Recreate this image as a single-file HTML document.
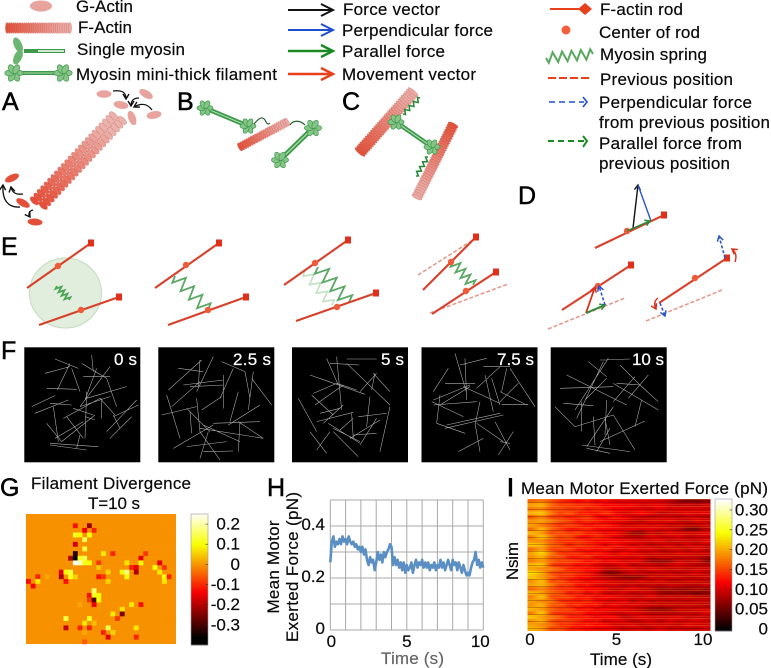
<!DOCTYPE html>
<html lang="en">
<head>
<meta charset="utf-8">
<title>Actin-myosin model figure</title>
<style>
html,body{margin:0;padding:0;background:#fff;width:771px;height:668px;overflow:hidden}
svg{display:block}
text{font-family:"Liberation Sans",sans-serif;font-size:17px;fill:#0a0a0a;stroke:#0a0a0a;stroke-width:.2}
.panel{font-size:25px;fill:#000;stroke:#000;stroke-width:.5}
.f-label{font-size:17px;fill:#fff;stroke:#fff;stroke-width:.25}
</style>
</head>
<body>
<svg id="fig" xmlns="http://www.w3.org/2000/svg" width="771" height="668" viewBox="0 0 771 668">
  <defs>
    <marker id="hk" markerUnits="userSpaceOnUse" markerWidth="8" markerHeight="8" refX="6" refY="4" orient="auto"><path d="M1 1L6 4L1 7" fill="none" stroke="#111" stroke-width="1.4"/></marker>
    <marker id="hb" markerUnits="userSpaceOnUse" markerWidth="8" markerHeight="8" refX="6" refY="4" orient="auto"><path d="M1 1L6 4L1 7" fill="none" stroke="#2a55d0" stroke-width="1.5"/></marker>
    <marker id="hg" markerUnits="userSpaceOnUse" markerWidth="8" markerHeight="8" refX="6" refY="4" orient="auto"><path d="M1 1L6 4L1 7" fill="none" stroke="#2a8a3a" stroke-width="1.5"/></marker>
    <marker id="hr" markerUnits="userSpaceOnUse" markerWidth="8" markerHeight="8" refX="6" refY="4" orient="auto"><path d="M1 1L6 4L1 7" fill="none" stroke="#d9301c" stroke-width="1.5"/></marker>
    <clipPath id="motorClip"><rect x="527.5" y="499" width="183" height="132"/></clipPath>
    <filter id="motorBlur" filterUnits="userSpaceOnUse" x="500" y="480" width="240" height="170"><feGaussianBlur stdDeviation="3.5 0.5"/></filter>
    <pattern id="motorStreaks" patternUnits="userSpaceOnUse" x="0" y="499" width="40" height="7">
      <rect x="0" y="0" width="40" height="1" fill="#ff9a40" fill-opacity=".3"/>
      <rect x="0" y="3" width="40" height="1" fill="#5a0000" fill-opacity=".28"/>
      <rect x="0" y="5" width="40" height="1" fill="#ff8030" fill-opacity=".22"/>
    </pattern>
  </defs>

  <g>
    <text x="76" y="12" textLength="57">G-Actin</text>
    <text x="78" y="33" textLength="54">F-Actin</text>
    <text x="77" y="55" textLength="108">Single myosin</text>
    <text x="76" y="80" textLength="201">Myosin mini-thick filament</text>
  </g>

  <g>
    <g fill="none" stroke="#111" stroke-width="2"><path d="M288 10H332"/><path d="M321 4L333 10L321 16"/></g>
    <g fill="none" stroke="#1f4fd0" stroke-width="2"><path d="M288 30H332"/><path d="M321 24L333 30L321 36"/></g>
    <g fill="none" stroke="#1a8a22" stroke-width="2.4"><path d="M288 51H332"/><path d="M321 45L333 51L321 57"/></g>
    <g fill="none" stroke="#e8401a" stroke-width="2.4"><path d="M288 74H332"/><path d="M321 68L333 74L321 80"/></g>
    <text x="343" y="15" textLength="97">Force vector</text>
    <text x="342" y="36" textLength="151">Perpendicular force</text>
    <text x="342" y="57" textLength="103">Parallel force</text>
    <text x="342" y="80" textLength="134">Movement vector</text>
  </g>

  <g>
    <g><path d="M550 9H585" stroke="#e8401a" stroke-width="2"/><path d="M585 3L592 9L585 15L578 9Z" fill="#e8401a"/></g>
    <circle cx="566" cy="30" r="4.5" fill="#f0603c"/>
    <g id="springKey"></g>
    <path d="M548 78H589" stroke="#e8401a" stroke-width="2" stroke-dasharray="8 3"/>
    <g fill="none" stroke="#1f4fd0" stroke-width="1.6"><path d="M549 102H584" stroke-dasharray="6 4"/><path d="M583 97L587 102L583 107"/></g>
    <g fill="none" stroke="#1a8a22" stroke-width="2"><path d="M548 141H584" stroke-dasharray="6 4"/><path d="M583 136L587 141L583 147"/></g>
    <text x="600" y="15" textLength="83">F-actin rod</text>
    <text x="599" y="38" textLength="101">Center of rod</text>
    <text x="600" y="60" textLength="107">Myosin spring</text>
    <text x="600" y="85" textLength="133">Previous position</text>
    <text x="599" y="108" textLength="153">Perpendicular force</text>
    <text x="599" y="128" textLength="171">from previous position</text>
    <text x="599" y="149" textLength="143">Parallel force from</text>
    <text x="599" y="169" textLength="131">previous position</text>
  </g>

  <g>
    <text class="panel" x="2" y="110">A</text>
    <text class="panel" x="177" y="110">B</text>
    <text class="panel" x="342" y="110">C</text>
    <text class="panel" x="518" y="204">D</text>
    <text class="panel" x="1" y="255">E</text>
    <text class="panel" x="1" y="359">F</text>
    <text class="panel" x="0" y="496">G</text>
    <text class="panel" x="267" y="496">H</text>
    <text class="panel" x="507" y="496" style="stroke-width:1">I</text>
  </g>

  <g id="illus"></g>

  <g fill="none" stroke="#111" stroke-width="1.3">
    <path marker-end="url(#hk)" d="M113 91C122 90 126 92 126 99"/>
    <path marker-end="url(#hk)" d="M139 98C133 98 131 101 131 106"/>
    <path marker-end="url(#hk)" d="M152 110C147 103 141 103 134 107"/>
    <path marker-end="url(#hk)" d="M20 207C8 208 2 200 3 185"/>
    <path marker-end="url(#hk)" d="M23 194C15 195 12 192 11 187"/>
    <path marker-end="url(#hk)" d="M33 210C29 211 28 214 30 217"/>
  </g>

  <g fill="none">
    <path d="M633 228L638 185" stroke="#111" stroke-width="1.4" marker-end="url(#hk)"/>
    <path d="M651 221L638 185" stroke="#2a55d0" stroke-width="1.4"/>
  </g>

  <g id="panelE">
    <ellipse cx="65.5" cy="293" rx="36" ry="35" fill="#e1eedd" stroke="#c4dabf" stroke-width="1"/>
  </g>

  <g>
    <rect x="24.3" y="347.3" width="116" height="115" fill="#000"/>
    <rect x="158.3" y="347.3" width="116" height="115" fill="#000"/>
    <rect x="292" y="347.3" width="116" height="115" fill="#000"/>
    <rect x="421.5" y="347.3" width="116" height="115" fill="#000"/>
    <rect x="550.7" y="347.3" width="116" height="115" fill="#000"/>
    <g transform="translate(0 335) scale(.3333)" fill="none" stroke="#b0b0b0" stroke-width="1.7">
      <path d="M165 72L235 100M210 85L172 165M135 115L210 95M140 160L230 163M215 100L240 170M245 85L320 130M275 60L280 110M330 95L240 215M290 100L255 195M250 125L330 125M320 130L350 215M380 155L260 190M95 215L165 182M105 235L205 195M150 205L215 210M240 215L330 185M415 210L340 245M410 195L320 290M395 245L330 310M140 265L185 320M160 215L175 320M200 245L250 310M255 245L285 255M260 170L255 310M305 190L305 250M300 190L345 240M340 240L360 280M150 325L295 335M150 330L260 345M165 310L250 260M185 320L285 240M230 340L240 300M190 250L300 190M220 220L280 240"/>
      <path d="M535 100L610 110M505 165L605 75M515 215L600 140M640 65L590 170M665 80L735 110M690 260L715 170M745 225L760 110M600 75L595 155M550 150L670 135M570 155L670 150M670 120L670 220M735 110L750 190M700 100L660 190M755 130L815 210M500 180L540 310M485 240L590 215M560 220L630 290M590 190L600 290M570 230L575 295M605 225L665 185M640 265L780 260M685 270L780 210M720 260L715 350M610 270L720 320M600 280L790 310M520 340L640 270M610 350L700 348M560 335L680 320M600 370L625 290M660 375L600 290M715 260L790 310"/>
      <path d="M930 120L1095 178M1040 72L1130 72M1040 85L1170 210M980 70L1015 150M1010 65L1025 225M990 85L1078 90M1010 145L940 175M960 130L1015 150M1010 145L1070 165M895 190L950 290M935 180L1000 240M945 210L1030 150M1080 170L1130 115M1115 165L1125 115M1120 115L1170 170M950 260L1060 232M1055 235L1060 310M960 235L1020 220M985 265L1080 325M970 265L1030 210M930 290L980 355M950 345L990 290M1000 290L1075 365M1110 185L1100 275M1170 215L1140 350M1075 245L1160 235M1060 300L1130 295M1050 310L1140 255M1020 285L1060 250M1130 250L1080 330M1000 280L1080 320"/>
    </g>
    <g transform="translate(400 335) scale(.3333)" fill="none" stroke="#b0b0b0" stroke-width="1.7">
      <path d="M165 55L200 175M195 70L200 195M180 90L260 70M250 95L330 95M145 100L100 170M135 145L225 145M100 195L210 150M190 155L300 205M230 160L300 95M255 120L280 230M275 130L300 210M320 100L305 170M330 100L405 215M300 170L380 210M305 208L385 208M355 145L300 200M95 200L190 245M120 180L110 265M100 210L230 200M120 210L210 155M110 265L195 295M135 280L310 240M140 270L300 235M240 200L225 270M225 265L240 350M285 260L330 345M230 265L310 320M175 350L250 310M295 360L340 290M300 320L330 325"/>
      <path d="M600 75L690 72M565 80L620 125M625 70L525 225M610 80L530 250M500 120L680 210M480 160L640 155M620 130L555 195M640 145L775 225M660 90L730 160M705 125L640 200M745 120L685 190M720 150L775 200M490 205L580 212M465 215L525 275M545 200L545 290M525 275L640 240M620 195L615 300M640 215L560 335M580 245L585 330M640 240L705 345M725 195L705 275M735 258L600 320M545 330L690 350M560 340L630 355M630 280L590 350M615 250L630 330M650 145L720 150"/>
    </g>
    <text class="f-label" x="114" y="365" textLength="23">0 s</text>
    <text class="f-label" x="233" y="365" textLength="38">2.5 s</text>
    <text class="f-label" x="381" y="365" textLength="23">5 s</text>
    <text class="f-label" x="497" y="365" textLength="37">7.5 s</text>
    <text class="f-label" x="632" y="365" textLength="32">10 s</text>
  </g>

  <g id="chartG">
    <text x="31" y="489" textLength="160">Filament Divergence</text>
    <text x="88" y="509" textLength="52">T=10 s</text>
  </g>

  <g id="chartH">
    <text transform="translate(279 567) rotate(-90)" text-anchor="middle" textLength="93">Mean Motor</text>
    <text transform="translate(298 567) rotate(-90)" text-anchor="middle" textLength="150">Exerted Force (pN)</text>
    <text x="381" y="664" textLength="63" style="fill:#666;stroke:#666">Time (s)</text>
  </g>

  <g id="chartI">
    <text x="521" y="494" textLength="247">Mean Motor Exerted Force (pN)</text>
    <text transform="translate(518 561) rotate(-90)" text-anchor="middle" textLength="38">Nsim</text>
    <text x="590" y="665" textLength="62">Time (s)</text>
  </g>
</svg>

<script>
/* ---------- Panel G data ---------- */
const divergenceCols = 32;
const divergenceRows = 28;
const divergenceCells = [
 [10,2,-.12],[13,2,-.22],[12,3,-.14],[14,3,-.1],[10,4,.12],[11,4,.1],[13,4,.1],[12,5,.15],[10,6,-.17],[12,7,.14],
 [10,8,-.32],[9,9,-.2],[10,9,-.36],[11,9,.12],[12,9,.15],[10,10,.25],[11,10,.22],[12,10,.12],[13,10,.1],
 [16,8,.08],[18,8,-.1],[25,8,-.08],[24,9,-.15],[15,10,-.08],[22,11,-.1],[24,10,.1],[21,10,.08],[23,11,-.15],[23,12,-.2],[15,11,.05],
 [28,10,-.15],[27,11,.1],[29,11,-.08],[28,12,.08],[29,13,.1],[30,13,-.1],[29,14,.08],
 [7,12,-.15],[8,12,.1],[9,12,.14],[7,13,-.2],[9,13,.12],[10,13,.06],[8,14,-.12],
 [15,13,-.12],[16,13,-.08],[17,12,.06],[17,14,.06],[20,12,.1],[21,12,.18],[21,13,.1],
 [0,14,-.12],[2,13,-.1],[2,14,.08],[1,15,-.13],[4,13,.02],
 [14,16,.17],[13,17,-.12],[14,17,.12],[15,17,.1],[13,18,-.08],[14,18,-.28],[15,18,.1],[14,19,-.14],[11,19,.02],
 [22,19,.08],[24,19,-.12],[20,20,.08],[18,21,.08],[20,21,-.25],[19,22,-.08],
 [8,22,.14],[13,22,.12],[12,23,.08],[14,23,.04],[8,24,-.18],[11,24,-.1],[13,24,-.1],[17,24,.15],[23,24,.08],
 [12,25,.02],[16,25,-.1],[18,25,.06],[17,26,-.15],[23,26,-.1],[12,27,-.05]
];
const divergenceTickValues = [.2,.1,0,-.1,-.2,-.3];
const divergenceTickLabels = ["0.2","0.1","0","-0.1","-0.2","-0.3"];

/* ---------- Panel H data ---------- */
const forceTimeStep = 0.1;
const meanForce = [
 .26,.34,.36,.32,.34,.33,.35,.33,.36,.34,
 .35,.33,.36,.34,.33,.34,.32,.33,.31,.32,
 .30,.32,.29,.31,.27,.25,.28,.26,.27,.23,
 .26,.30,.27,.29,.26,.30,.28,.30,.31,.33,
 .32,.25,.28,.25,.27,.24,.26,.23,.26,.22,
 .25,.23,.24,.26,.22,.25,.27,.24,.26,.25,
 .27,.24,.26,.24,.26,.23,.25,.24,.26,.23,
 .25,.24,.27,.24,.26,.23,.25,.27,.25,.23,
 .27,.25,.26,.23,.26,.24,.22,.25,.23,.21,
 .22,.21,.24,.26,.27,.30,.25,.27,.24,.26,.24
];
const forceYTicks = [.4,.2,0];
const forceYLabels = ["0.4","0.2","0"];
const forceXTicks = [0,5,10];
const forceXLabels = ["0","5","10"];

/* ---------- Panel I data (rows = simulations, columns = time bins) ---------- */
const motorForce = [
 [.17,.18,.16,.14,.13,.12,.13,.11,.12,.10,.11,.10,.11,.10,.10,.09,.07,.06,.06,.07],
 [.20,.21,.17,.15,.15,.14,.14,.13,.12,.12,.11,.12,.10,.11,.11,.10,.09,.10,.09,.10],
 [.18,.19,.16,.16,.14,.15,.13,.14,.13,.12,.12,.11,.11,.10,.12,.10,.11,.10,.11,.10],
 [.21,.22,.18,.14,.16,.13,.13,.12,.14,.12,.10,.11,.12,.11,.09,.10,.10,.11,.10,.11],
 [.16,.19,.15,.15,.13,.14,.15,.12,.11,.13,.12,.10,.10,.09,.10,.10,.09,.10,.10,.09],
 [.19,.20,.18,.16,.15,.12,.14,.13,.12,.11,.11,.10,.09,.11,.10,.11,.10,.09,.11,.10],
 [.20,.18,.16,.14,.15,.14,.12,.13,.13,.12,.10,.10,.11,.10,.11,.09,.10,.09,.09,.10],
 [.17,.21,.17,.15,.13,.13,.14,.12,.12,.11,.11,.11,.10,.11,.10,.10,.09,.06,.06,.09],
 [.21,.20,.15,.16,.14,.15,.13,.13,.11,.12,.10,.07,.07,.10,.09,.11,.10,.10,.10,.11],
 [.18,.22,.18,.15,.16,.13,.12,.14,.13,.11,.10,.09,.09,.11,.10,.10,.11,.09,.10,.10],
 [.19,.19,.16,.14,.14,.14,.13,.12,.12,.12,.11,.11,.10,.10,.11,.09,.10,.10,.09,.11],
 [.22,.21,.17,.16,.13,.15,.14,.13,.11,.13,.12,.10,.11,.09,.10,.11,.09,.11,.10,.10],
 [.17,.20,.15,.15,.15,.12,.13,.12,.13,.11,.10,.12,.10,.11,.09,.10,.10,.09,.11,.09],
 [.20,.23,.18,.14,.14,.14,.12,.13,.12,.10,.12,.11,.10,.10,.10,.09,.11,.10,.10,.10],
 [.19,.21,.16,.16,.13,.13,.14,.11,.12,.11,.11,.10,.11,.09,.10,.10,.09,.10,.09,.08],
 [.18,.20,.17,.15,.15,.14,.12,.13,.11,.12,.10,.11,.10,.07,.07,.07,.10,.09,.10,.06],
 [.21,.22,.15,.14,.14,.12,.13,.11,.10,.10,.12,.09,.10,.10,.09,.10,.11,.10,.09,.09],
 [.20,.19,.18,.16,.13,.13,.12,.12,.09,.09,.10,.11,.09,.11,.10,.09,.10,.09,.10,.10],
 [.23,.21,.16,.15,.15,.14,.13,.11,.07,.06,.09,.10,.10,.09,.10,.10,.09,.10,.11,.09],
 [.22,.20,.17,.14,.14,.12,.12,.10,.09,.08,.07,.07,.07,.10,.09,.10,.10,.09,.09,.10],
 [.19,.22,.15,.16,.13,.13,.11,.12,.11,.10,.10,.09,.11,.09,.11,.09,.09,.10,.10,.09],
 [.20,.21,.18,.15,.15,.12,.13,.11,.10,.11,.09,.10,.09,.10,.09,.10,.10,.09,.09,.10],
 [.17,.19,.16,.14,.14,.13,.12,.12,.11,.09,.10,.11,.10,.09,.07,.08,.07,.07,.08,.07],
 [.21,.20,.17,.16,.13,.14,.11,.13,.10,.10,.11,.09,.10,.10,.08,.07,.08,.07,.06,.07],
 [.18,.22,.15,.15,.15,.12,.13,.11,.12,.11,.10,.10,.09,.11,.09,.10,.09,.10,.09,.09],
 [.20,.19,.18,.14,.14,.13,.14,.12,.11,.10,.12,.09,.11,.09,.10,.09,.10,.09,.10,.10],
 [.19,.21,.16,.16,.13,.14,.12,.13,.10,.12,.10,.11,.10,.10,.09,.10,.09,.10,.09,.09],
 [.21,.20,.17,.15,.15,.12,.13,.11,.12,.11,.11,.10,.09,.07,.07,.07,.10,.09,.10,.10],
 [.18,.22,.15,.14,.14,.14,.12,.12,.11,.10,.10,.11,.10,.09,.09,.09,.09,.10,.09,.11],
 [.22,.20,.18,.16,.13,.13,.13,.11,.12,.12,.09,.10,.11,.10,.10,.10,.11,.09,.10,.09],
 [.19,.21,.16,.15,.15,.14,.12,.13,.10,.11,.11,.09,.10,.11,.09,.11,.10,.10,.11,.10],
 [.20,.19,.17,.14,.14,.12,.13,.12,.12,.10,.10,.11,.09,.10,.10,.10,.09,.11,.10,.10],
 [.21,.20,.15,.16,.13,.13,.12,.11,.11,.11,.09,.10,.10,.09,.11,.09,.10,.09,.09,.10]
];
const motorTickValues = [.30,.25,.20,.15,.10,.05,0];
const motorTickLabels = ["0.30","0.25","0.20","0.15","0.10","0.05","0"];
const motorXTicks = [0,5,10];
const motorXLabels = ["0","5","10"];

/* ---------- helpers ---------- */
const NS = 'http://www.w3.org/2000/svg';
function mk(tag, attrs, parent){
  const el = document.createElementNS(NS, tag);
  for (const k in attrs) el.setAttribute(k, attrs[k]);
  parent.appendChild(el);
  return el;
}
function clamp(v){ return Math.max(0, Math.min(1, v)); }
function hot(t){
  t = clamp(t);
  const r = Math.round(248*clamp(t/.365)+7*clamp((t-.745)/.255));
  const g = Math.round(255*clamp((t-.365)/.38));
  const b = Math.round(255*clamp((t-.745)/.255));
  return 'rgb('+r+','+g+','+b+')';
}
function lerpColor(a,b,t){
  return 'rgb('+a.map(function(v,i){return Math.round(v+(b[i]-v)*t);}).join(',')+')';
}
function addText(parent, x, y, str, anchor, name, extra){
  const el = mk('text', Object.assign({x:x, y:y, 'text-anchor':anchor}, extra||{}), parent);
  
  
  el.textContent = str;
  return el;
}
function spring(parent, x1,y1,x2,y2, coils, amp, color, width, name, opacity){
  const dx=x2-x1, dy=y2-y1, L=Math.hypot(dx,dy), ux=dx/L, uy=dy/L, nx=-uy, ny=ux;
  const pts=[[x1,y1]];
  const n=coils*2;
  for(let i=0;i<n;i++){
    const s=L*(i+.5)/n, side=(i%2?-1:1)*amp;
    pts.push([x1+ux*s+nx*side, y1+uy*s+ny*side]);
  }
  pts.push([x2,y2]);
  const el = mk('polyline',{points:pts.map(function(p){return p[0].toFixed(1)+','+p[1].toFixed(1);}).join(' '),fill:'none',stroke:color,'stroke-width':width,'stroke-opacity':opacity||1,'stroke-linejoin':'miter'},parent);
  
  
  return el;
}
const RED=[228,84,60], PINK=[233,170,165];

/* filament built from repeating actin subunits */
function filament(parent, x1,y1,x2,y2, width, step, c1, c2, name, double){
  const g = mk('g',{},parent);
  
  
  const dx=x2-x1, dy=y2-y1, L=Math.hypot(dx,dy), ux=dx/L, uy=dy/L, nx=-uy, ny=ux;
  const ang=Math.atan2(ny,nx)*180/Math.PI;
  const n=Math.round(L/step);
  for(let i=0;i<=n;i++){
    const t=i/n, col=lerpColor(c1,c2,Math.min(1,t*1.15));
    const cols = double ? [-width*.25, width*.25] : [0];
    cols.forEach(function(off,j){
      const sh = double && j ? step*.5 : 0;
      const cx=x1+dx*t+nx*off+ux*sh, cy=y1+dy*t+ny*off+uy*sh;
      const rx = double ? width*.28 : width/2;
      const ry = double ? step*.55 : step*.72;
      const e = mk('ellipse',{cx:cx.toFixed(1),cy:cy.toFixed(1),rx:rx,ry:ry.toFixed(1),fill:col,stroke:'rgba(190,60,50,.4)','stroke-width':.5,transform:'rotate('+ang.toFixed(1)+' '+cx.toFixed(1)+' '+cy.toFixed(1)+')'},g);
      
      
    });
  }
  return g;
}
function monomer(parent,cx,cy,rx,ry,rot,color,name){
  const e = mk('ellipse',{cx:cx,cy:cy,rx:rx,ry:ry,fill:color,transform:'rotate('+rot+' '+cx+' '+cy+')'},parent);
  
  
}
function myosinHead(parent,x,y,size){
  const g = mk('g',{},parent);
  
  
  [0,60,120,180,240,300].forEach(function(a){
    const r=a*Math.PI/180, cx=x+Math.cos(r)*size*.55, cy=y+Math.sin(r)*size*.55;
    const p = mk('ellipse',{cx:cx.toFixed(1),cy:cy.toFixed(1),rx:size*.6,ry:size*.36,fill:'#86c488',stroke:'#3e9a4c','stroke-width':.7,transform:'rotate('+a+' '+cx.toFixed(1)+' '+cy.toFixed(1)+')'},g);
    
    
  });
}
function myosin(parent,x1,y1,x2,y2,w,size,name){
  const g = mk('g',{},parent);
  
  
  const a = mk('line',{x1:x1,y1:y1,x2:x2,y2:y2,stroke:'#3d9a4a','stroke-width':w},g);
  
  
  const b = mk('line',{x1:x1,y1:y1,x2:x2,y2:y2,stroke:'#a9d8aa','stroke-width':w*.25},g);
  
  
  myosinHead(g,x1,y1,size);
  myosinHead(g,x2,y2,size);
}

/* ---------- illustrations ---------- */
const illus = document.getElementById('illus');
monomer(illus,41,6,11,5.5,0,'#e8a39c','g-actin-key');
filament(illus,7,28,70,28,11,2.2,[226,84,60],PINK,'f-actin-key');
(function(){
  const g = mk('g',{},illus);
  
  
  const s = mk('line',{x1:24,y1:51,x2:65,y2:51,stroke:'#3d9a4a','stroke-width':4},g);
  
  
  const t = mk('line',{x1:38,y1:51,x2:64,y2:51,stroke:'#cfe8cf','stroke-width':2},g);
  
  
  monomer(g,18,45,4,8,-25,'#6ab56f','single-myosin-head');
  monomer(g,18,57,4,8,25,'#6ab56f','single-myosin-head');
})();
myosin(illus,14,73,63,73,4,8,'myosin-filament-key');

/* panel A */
filament(illus,38,204,117,119,19,5,[230,80,58],[234,178,172],'panel-a-filament',true);
monomer(illus,104,94,7.5,3.8,0,'#e8a39c','g-actin-monomer');
monomer(illus,146,94,7.5,3.8,30,'#e8a39c','g-actin-monomer');
monomer(illus,121,105,7.5,3.8,10,'#e8a39c','g-actin-monomer');
monomer(illus,132,118,7.5,3.8,70,'#e8a39c','g-actin-monomer');
monomer(illus,154,115,7.5,3.8,-10,'#e8a39c','g-actin-monomer');
monomer(illus,12,178,7.5,3.5,-25,'#e2503a','g-actin-monomer-red');
monomer(illus,23,203,7.5,3.5,30,'#e2503a','g-actin-monomer-red');
monomer(illus,35,222,7.5,3.5,5,'#e2503a','g-actin-monomer-red');

/* panel B */
filament(illus,240,147,287,122,9,2.4,[226,84,60],PINK,'panel-b-filament');
myosin(illus,205,108,248,126,4.5,7,'panel-b-myosin-top');
myosin(illus,280,160,313,128,5,7.5,'panel-b-myosin-bottom');
[["M254 124C259 118 262 116 265 120C267 124 268 125 270 123",'#2b5d35'],["M290 125C293 120 300 120 305 125",'#2b5d35']].forEach(function(d){
  const p = mk('path',{d:d[0],fill:'none',stroke:d[1],'stroke-width':1.2},illus);
  
  
});

/* panel C */
filament(illus,360,152,413,92,13,2.6,[226,84,60],PINK,'panel-c-filament-upper');
filament(illus,453,125,417,197,11,2.6,[226,84,60],PINK,'panel-c-filament-lower');
myosin(illus,396,122,432,147,4.5,7,'panel-c-myosin');
spring(illus,403,114,420,98,4,2,'#2a8a3a',1.6,'panel-c-step-upper');
spring(illus,416,176,428,157,4,2,'#2a8a3a',1.6,'panel-c-step-lower');

/* spring key */
spring(document.getElementById('springKey'),546,58,593,54,5,5,'#58a85e',2,'myosin-spring-zigzag');

/* ---------- Panel D + E rods ---------- */
const panelE = document.getElementById('panelE');
function rod(x1,y1,x2,y2,cx,cy,name){
  const g = mk('g',{},panelE);
  
  
  const l = mk('line',{x1:x1,y1:y1,x2:x2,y2:y2,stroke:'#d8402a','stroke-width':2.1},g);
  
  
  const r = mk('rect',{x:x2-3,y:y2-3.5,width:6,height:7,fill:'#e0301c'},g);
  
  
  if(cx!==null){
    const c = mk('circle',{cx:cx,cy:cy,r:3.2,fill:'#ef5a38'},g);
    
    
  }
}
function dashed(x1,y1,x2,y2){
  const l = mk('line',{x1:x1,y1:y1,x2:x2,y2:y2,stroke:'#e59a8e','stroke-width':1.6,'stroke-dasharray':'4 2'},panelE);
  
  
}
function vec(x1,y1,x2,y2,color,marker,dash,w){
  const l = mk('line',{x1:x1,y1:y1,x2:x2,y2:y2,stroke:color,'stroke-width':w||1.6,'marker-end':'url(#'+marker+')'},panelE);
  if(dash) l.setAttribute('stroke-dasharray',dash);
  
  
}
/* D */
rod(595,248,664,215,627,231,'panel-d-rod');
vec(627,231,650,221,'#2a8a3a','hg');
/* E1 */
spring(panelE,57,286,69,300,4,3,'#4ea455',1.8,'e1-spring');
rod(27,288,91,243,58,266,'e1-rod-upper');
rod(39,325,119,297,81,310,'e1-rod-lower');
/* E2 */
spring(panelE,175,276,208,310,4,6.5,'#5aa863',1.8,'e2-spring');
rod(155,288,219,243,186,265,'e2-rod-upper');
rod(168,325,246,297,208,310,'e2-rod-lower');
/* E3 */
spring(panelE,305,271,332,305,4,5,'#c4e0c4',1.6,'e3-spring-previous');
spring(panelE,318,267,349,302,4,7,'#5aa863',1.8,'e3-spring');
rod(284,285,348,240,315,263,'e3-rod-upper');
rod(296,321,376,293,337,307,'e3-rod-lower');
/* E4 */
dashed(418,275,473,240);
dashed(430,313,508,284);
spring(panelE,453,262,473,285,4,5,'#5aa863',1.8,'e4-spring');
rod(423,290,476,237,451,262,'e4-rod-upper');
rod(432,314,496,272,466,291,'e4-rod-lower');
/* E5 */
dashed(548,329,625,298);
rod(562,310,631,265,598,286,'e5-rod');
vec(586,313,595,287,'#d9301c','hr',null,1.8);
vec(586,313,605,305,'#2a8a3a','hg',null,1.8);
vec(605,305,599,286,'#2a55d0','hb','3 2');
/* E6 */
dashed(646,321,722,290);
rod(659,303,727,258,695,278,'e6-rod');
vec(725,258,719,236,'#2a55d0','hb','3 2');
vec(660,303,665,316,'#2a55d0','hb','3 2');
[["M735 262C737 256 736 252 732 249"],["M658 298C654 301 654 305 656 309"]].forEach(function(d){
  const p = mk('path',{d:d[0],fill:'none',stroke:'#d9301c','stroke-width':1.4,'marker-end':'url(#hr)'},panelE);
  
  
});

/* ---------- Panel G chart ---------- */
(function(){
  const g = document.getElementById('chartG');
  const X0=26, Y0=514, W=150, H=130;
  const cw=W/divergenceCols, ch=H/divergenceRows;
  const colorOf=function(v){ return hot((v+.36)/.62); };
  const gx=function(c){ return X0+c*cw; };
  const gy=function(r){ return Y0+r*ch; };
  const bg = mk('rect',{x:X0,y:Y0,width:W,height:H,fill:colorOf(0)},g);
  
  
  divergenceCells.forEach(function(c){
    const r = mk('rect',{x:gx(c[0]).toFixed(2),y:gy(c[1]).toFixed(2),width:cw+.2,height:ch+.2,fill:colorOf(c[2])},g);
    
    
  });
  const CX=191, CW=17, CTOP=514, CH=131, VTOP=.25, VBOT=-.4;
  const cy=function(v){ return CTOP+(VTOP-v)/(VTOP-VBOT)*CH; };
  for(let i=0;i<66;i++){
    const v=VTOP-(VTOP-VBOT)*i/66;
    const s = mk('rect',{x:CX,y:cy(v).toFixed(2),width:CW,height:(CH/66+.4).toFixed(2),fill:colorOf(v)},g);
    
    
  }
  const f = mk('rect',{x:CX,y:CTOP,width:CW,height:CH,fill:'none',stroke:'#999','stroke-width':.6},g);
  
  
  divergenceTickValues.forEach(function(v,i){
    const t = mk('line',{x1:CX+CW-2.5,x2:CX+CW,y1:cy(v).toFixed(1),y2:cy(v).toFixed(1),stroke:'#333','stroke-width':.6},g);
    
    
    addText(g,240,(cy(v)+5.5).toFixed(1),divergenceTickLabels[i],'end','divergence-colorbar-tick');
  });
})();

/* ---------- Panel H chart ---------- */
(function(){
  const g = document.getElementById('chartH');
  const x=function(t){ return 330.3+t*15.3; };
  const y=function(v){ return 630-v*260; };
  for(let t=0;t<=10;t++){
    const l = mk('line',{x1:x(t),x2:x(t),y1:y(.5),y2:y(0),stroke:'#a8a8a8','stroke-width':1},g);
    
    
  }
  for(let k=0;k<=5;k++){
    const l = mk('line',{x1:x(0),x2:x(10),y1:y(k/10),y2:y(k/10),stroke:'#a8a8a8','stroke-width':1},g);
    
    
  }
  const pts = meanForce.map(function(v,i){ return x(i*forceTimeStep).toFixed(1)+','+y(v).toFixed(1); }).join(' ');
  const line = mk('polyline',{points:pts,fill:'none',stroke:'#5b8fc4','stroke-width':2.6,'stroke-linejoin':'round'},g);
  
  
  forceYTicks.forEach(function(v,i){
    addText(g,325,(y(v)+4).toFixed(1),forceYLabels[i],'end','force-y-tick');
  });
  forceXTicks.forEach(function(t,i){
    addText(g,(x(t)+(t===10?-3:t===0?1:0)).toFixed(1),647,forceXLabels[i],'middle','force-x-tick');
  });
})();

/* ---------- Panel I chart ---------- */
(function(){
  const root = document.getElementById('chartI');
  const clip = mk('g',{'clip-path':'url(#motorClip)'},root);
  
  
  const g = mk('g',{filter:'url(#motorBlur)'},clip);
  
  
  const X0=527.5, Y0=499, W=183, H=132, PAD=14;
  const nR=motorForce.length, nC=motorForce[0].length;
  const cw=W/nC, ch=H/nR;
  const colorOf=function(v){ return hot(v/.328); };
  motorForce.forEach(function(row,r){
    row.forEach(function(v,c){
      const x=X0+c*cw-(c===0?PAD:0), y=Y0+r*ch-(r===0?PAD:0);
      const w=cw+.3+(c===0?PAD:0)+(c===nC-1?PAD:0), h=ch+.3+(r===0?PAD:0)+(r===nR-1?PAD:0);
      const rc = mk('rect',{x:x.toFixed(2),y:y.toFixed(2),width:w.toFixed(2),height:h.toFixed(2),fill:colorOf(v)},g);
      
      
    });
  });
  const tex = mk('rect',{x:X0,y:Y0,width:W,height:H,fill:'url(#motorStreaks)'},root);
  
  
  const CX=715, CW=17, CTOP=499, CH=132, VTOP=.3277, VBOT=-.0050;
  const cy=function(v){ return CTOP+(VTOP-v)/(VTOP-VBOT)*CH; };
  for(let i=0;i<66;i++){
    const v=VTOP-(VTOP-VBOT)*i/66;
    const s = mk('rect',{x:CX,y:cy(v).toFixed(2),width:CW,height:(CH/66+.4).toFixed(2),fill:colorOf(v)},root);
    
    
  }
  const f = mk('rect',{x:CX,y:CTOP,width:CW,height:CH,fill:'none',stroke:'#999','stroke-width':.6},root);
  
  
  motorTickValues.forEach(function(v,i){
    const t = mk('line',{x1:CX+CW-2.5,x2:CX+CW,y1:cy(v).toFixed(1),y2:cy(v).toFixed(1),stroke:'#333','stroke-width':.6},root);
    
    
    addText(root,768,(cy(v)+5.5).toFixed(1),motorTickLabels[i],'end','motor-colorbar-tick');
  });
  const tx=function(t){ return 530+t*17.3; };
  motorXTicks.forEach(function(t,i){
    addText(root,tx(t).toFixed(1),645,motorXLabels[i],'middle','motor-x-tick');
  });
})();
</script>
</body>
</html>
